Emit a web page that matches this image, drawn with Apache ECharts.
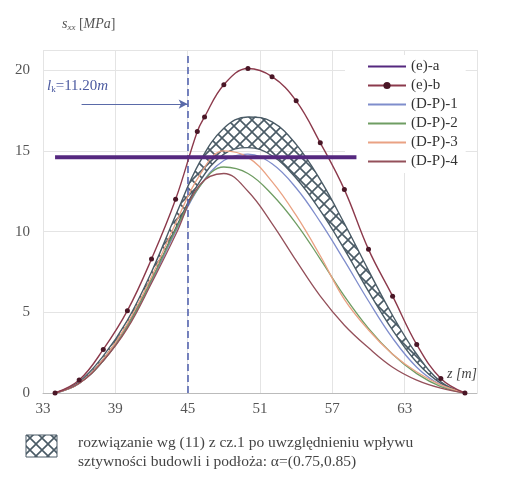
<!DOCTYPE html>
<html><head><meta charset="utf-8">
<script src="https://cdn.jsdelivr.net/npm/echarts@6/dist/echarts.min.js"></script>
<style>html,body{margin:0;padding:0;background:#fff}#c{width:510px;height:477px}</style>
</head><body><div id="c"></div>
<script>
// ---- data ----
const zValues = [34,36,38,40,42,44,46,48,50,52,54,56,58,60,62,64,66,68];
const dp1 = [0,0.6,2.0,4.1,6.9,10.0,12.8,14.4,14.8,14.2,12.7,10.6,8.2,5.7,3.4,1.6,0.5,0];
const dp2 = [0,0.6,2.0,4.1,7.0,10.1,12.8,14.0,13.6,12.3,10.5,8.3,6.0,4.0,2.4,1.2,0.4,0];
const dp3 = [0,0.6,2.1,4.3,7.2,10.5,13.5,15.0,14.6,13.1,11.0,8.5,5.8,3.9,2.4,1.3,0.5,0];
const dp4 = [0,0.6,2.0,4.0,6.8,9.8,12.9,13.6,12.5,10.5,8.2,6.0,4.2,2.8,1.6,0.8,0.3,0];
const bandUpper = [0,0.7,2.3,4.5,7.5,11.0,14.3,16.4,17.1,16.8,15.4,13.2,10.5,7.6,4.8,2.4,0.7,0];
const bandLower = [0,0.6,2.1,4.2,7.0,10.2,13.1,14.8,15.2,14.7,13.3,11.3,8.9,6.3,3.9,1.9,0.6,0];
const ebZ = [34,36,38,40,42,44,45.8,46.4,48,50,52,54,56,58,60,62,64,66,68];
const ebV = [0,0.8,2.7,5.1,8.3,12.0,16.2,17.1,19.1,20.1,19.6,18.1,15.5,12.6,8.9,6.0,3.0,0.9,0];
const eaZ = [34,59];
const eaV = [14.6,14.6];
const lkZ = 45;          // vertical dashed line position
const arrowFromZ = 36.2, arrowY = 17.9;
const xTicks = [33,39,45,51,57,63];
const yTicks = [0,5,10,15,20];
const seriesNames = ['(e)-a','(e)-b','(D-P)-1','(D-P)-2','(D-P)-3','(D-P)-4'];

const pair = (xs, ys) => xs.map((x,i)=>[x, ys[i]]);

// crosshatch pattern
const P = 12;
const pc = document.createElement('canvas');
pc.width = P; pc.height = P;
const g = pc.getContext('2d');
g.strokeStyle = '#4a5b66'; g.lineWidth = 1.6;
g.beginPath();
g.moveTo(-1,-1); g.lineTo(P+1,P+1);
g.moveTo(P+1,-1); g.lineTo(-1,P+1);
g.stroke();
const hatch = {image: pc, repeat: 'repeat'};

const serif = '"Liberation Serif", "DejaVu Serif", serif';
const chart = echarts.init(document.getElementById('c'), null, {renderer:'canvas'});

function renderBand(params, api) {
  if (params.dataIndex !== 0) return null;
  const pts = [];
  for (let i = 0; i < zValues.length; i++) pts.push(api.coord([zValues[i], bandUpper[i]]));
  for (let i = zValues.length - 2; i >= 1; i--) pts.push(api.coord([zValues[i], bandLower[i]]));
  return {type: 'polygon', shape: {points: pts, smooth: 0.4},
          style: {fill: hatch, stroke: null}};
}

const option = {
  backgroundColor: '#fff',
  animation: false,
  textStyle: {fontFamily: serif},
  grid: {left: 43, right: 33, top: 50, bottom: 84},
  xAxis: {
    type: 'value', min: 33, max: 69, interval: 6,
    name: 'z [m]', nameLocation: 'end', nameGap: 0,
    nameTextStyle: {fontFamily: serif, fontStyle: 'italic', fontSize: 14, color: '#444', align: 'right', verticalAlign: 'bottom', padding: [0,0,12,0]},
    axisLine: {show: true, lineStyle: {color: '#bbb', width: 1}},
    axisTick: {show: false},
    axisLabel: {fontFamily: serif, fontSize: 15, color: '#555', margin: 9,
      formatter: v => xTicks.includes(v) ? String(v) : ''},
    splitLine: {show: true, lineStyle: {color: '#e4e4e4', width: 1}}
  },
  yAxis: {
    type: 'value', min: 0, max: 21.25, interval: 5,
    name: '{i|s}{sub|xx} [{i|MPa}]', nameLocation: 'end', nameGap: 18,
    nameTextStyle: {fontFamily: serif, fontSize: 14, color: '#555', align: 'left', padding: [0,0,0,19],
      rich: {i: {fontStyle: 'italic', fontFamily: serif, fontSize: 14, color: '#555'},
             sub: {fontSize: 9, fontStyle: 'italic', fontFamily: serif, color: '#555', padding: [6,0,0,0]}}},
    axisLine: {show: false}, axisTick: {show: false},
    axisLabel: {fontFamily: serif, fontSize: 15, color: '#555', margin: 13, showMaxLabel: false,
      formatter: v => yTicks.includes(v) ? String(v) : ''},
    splitLine: {show: true, lineStyle: {color: '#e4e4e4', width: 1}}
  },
  legend: {
    data: [
      {name: '(e)-a', itemStyle: {opacity: 0}},
      {name: '(e)-b'},
      {name: '(D-P)-1', itemStyle: {opacity: 0}},
      {name: '(D-P)-2', itemStyle: {opacity: 0}},
      {name: '(D-P)-3', itemStyle: {opacity: 0}},
      {name: '(D-P)-4', itemStyle: {opacity: 0}}
    ],
    orient: 'vertical', left: 345, top: 55,
    backgroundColor: '#fff', padding: [4,8,4,22],
    itemWidth: 38, itemHeight: 9, itemGap: 4,
    textStyle: {fontFamily: serif, fontSize: 15, color: '#333'}
  },
  series: [
    {name: 'band', type: 'custom', renderItem: renderBand, data: [[zValues[0], bandUpper[0]]],
     z: 2, silent: true, clip: true},
    {name: 'band-lower', type: 'line', smooth: 0.4, symbol: 'none', z: 3,
     data: pair(zValues, bandLower), lineStyle: {color: '#4a5b66', width: 1.4}},
    {name: 'band-upper', type: 'line', smooth: 0.4, symbol: 'none', z: 3,
     data: pair(zValues, bandUpper), lineStyle: {color: '#4a5b66', width: 1.4}},
    {name: '(D-P)-1', type: 'line', smooth: 0.4, symbol: 'none', z: 4,
     data: pair(zValues, dp1), lineStyle: {color: '#7f8dcc', width: 1.3}, itemStyle: {color: '#7f8dcc'}},
    {name: '(D-P)-2', type: 'line', smooth: 0.4, symbol: 'none', z: 4,
     data: pair(zValues, dp2), lineStyle: {color: '#6f9d63', width: 1.3}, itemStyle: {color: '#6f9d63'}},
    {name: '(D-P)-3', type: 'line', smooth: 0.4, symbol: 'none', z: 4,
     data: pair(zValues, dp3), lineStyle: {color: '#eaa283', width: 1.3}, itemStyle: {color: '#eaa283'}},
    {name: '(D-P)-4', type: 'line', smooth: 0.4, symbol: 'none', z: 4,
     data: pair(zValues, dp4), lineStyle: {color: '#94505a', width: 1.3}, itemStyle: {color: '#94505a'}},
    {name: '(e)-b', type: 'line', smooth: 0.4, symbol: 'circle', symbolSize: 5, z: 5,
     data: pair(ebZ, ebV), lineStyle: {color: '#8c3a4c', width: 1.4}, itemStyle: {color: '#4a1626'}},
    {name: '(e)-a', type: 'line', symbol: 'none', z: 6,
     data: pair(eaZ, eaV), lineStyle: {color: '#55287f', width: 4}, itemStyle: {color: '#55287f'},
     markLine: {
       silent: true, symbol: ['none','none'], label: {show: false}, animation: false,
       data: [
         [{coord: [lkZ, 0], lineStyle: {color: '#5565b0', width: 1.6, type: [7,4]}}, {coord: [lkZ, 20.9]}],
         [{coord: [arrowFromZ, arrowY], symbol: 'none', lineStyle: {color: '#5a6aa8', width: 1.2, type: 'solid'}},
          {coord: [lkZ, arrowY], symbol: 'arrow', symbolSize: [7,9]}]
       ]
     }}
  ],
  graphic: [
    {type: 'text', left: 47, top: 79, z: 10,
     style: {text: '{i|l}{s|k}=11.20{i|m}', fill: '#4b5aa0', font: '15px ' + serif,
       rich: {i: {fontStyle: 'italic', fontSize: 15, fontFamily: serif, fill: '#4b5aa0'},
              s: {fontSize: 9, fontFamily: serif, fill: '#4b5aa0', padding: [7,0,0,0]}}}},
    {type: 'rect', shape: {x: 26, y: 435, width: 31, height: 22}, z: 10,
     style: {fill: hatch, stroke: '#4a5b66', lineWidth: 1}},
    {type: 'text', left: 78, top: 433, z: 10,
     style: {text: 'rozwiązanie wg (11) z cz.1 po uwzględnieniu wpływu\nsztywności budowli i podłoża: α=(0.75,0.85)',
       font: '15.5px ' + serif, fill: '#444', lineHeight: 19}}
  ]
};
chart.setOption(option);
</script>
</body></html>
